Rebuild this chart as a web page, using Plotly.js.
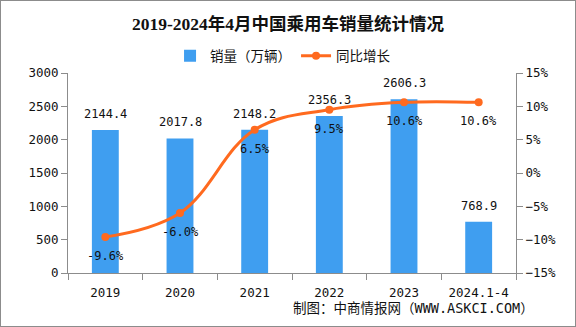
<!DOCTYPE html>
<html>
<head>
<meta charset="utf-8">
<script src="https://cdn.plot.ly/plotly-3.0.1.min.js"></script>
<style>
html,body{margin:0;padding:0;background:#fff;}
#wrap{position:relative;width:576px;height:327px;}
#chart{width:576px;height:327px;}
#frame{position:absolute;left:0;top:0;width:574px;height:325px;border:1px solid #8c8c8c;pointer-events:none;}
</style>
</head>
<body>
<div id="wrap"><div id="chart"></div><div id="frame"></div></div>
<script>
const categories = ["2019", "2020", "2021", "2022", "2023", "2024.1-4"];
const sales = [2144.4, 2017.8, 2148.2, 2356.3, 2606.3, 768.9];
const growth = [-9.6, -6.0, 6.5, 9.5, 10.6, 10.6];
const salesLabels = ["2144.4", "2017.8", "2148.2", "2356.3", "2606.3", "768.9"];
const growthLabels = ["-9.6%", "-6.0%", "6.5%", "9.5%", "10.6%", "10.6%"];

const numFont = "DejaVu Sans Mono, Noto Sans CJK SC, monospace";
const cjkFont = "Noto Sans CJK SC, DejaVu Sans, sans-serif";

const traces = [
  {
    type: "bar",
    name: "销量（万辆）",
    x: categories,
    y: sales,
    width: 0.36,
    marker: {color: "#3f9ef0"},
    hoverinfo: "skip"
  },
  {
    type: "scatter",
    mode: "lines+markers",
    name: "同比增长",
    x: categories,
    y: growth,
    yaxis: "y2",
    line: {color: "#ff6a1f", width: 3, shape: "spline", smoothing: 1.1},
    marker: {color: "#ff6a1f", size: 8},
    hoverinfo: "skip"
  }
];

const annotations = [];
categories.forEach((c, i) => {
  annotations.push({
    x: i, y: sales[i], xref: "x", yref: "y",
    text: salesLabels[i], showarrow: false, yshift: 16,
    font: {family: numFont, size: 12, color: "#111"}
  });
  annotations.push({
    x: i, y: growth[i], xref: "x", yref: "y2",
    text: growthLabels[i], showarrow: false, yshift: -19,
    font: {family: numFont, size: 12, color: "#111"}
  });
});
annotations.push({
  xref: "paper", yref: "paper", x: 1.045, y: -0.175, xanchor: "right", yanchor: "middle",
  text: "制图：中商情报网（WWW.ASKCI.COM）", showarrow: false,
  font: {family: numFont, size: 13.5, color: "#111"}
});

const layout = {
  width: 576, height: 327,
  margin: {l: 68, r: 60, t: 73, b: 54},
  paper_bgcolor: "#fff", plot_bgcolor: "#fff",
  title: {
    text: "<b>2019-2024年4月中国乘用车销量统计情况</b>",
    x: 0.5, xanchor: "center", y: 0.928, yanchor: "middle", yref: "container",
    font: {family: "Liberation Serif, Noto Sans CJK SC, serif", size: 17.5, color: "#111"}
  },
  showlegend: true,
  legend: {
    orientation: "h", x: 0.48, xanchor: "center", y: 1.085, yanchor: "middle",
    font: {family: cjkFont, size: 13.5, color: "#111"},
    itemwidth: 30, traceorder: "normal", bgcolor: "rgba(0,0,0,0)"
  },
  bargap: 0.64,
  xaxis: {
    type: "category", range: [-0.5, 5.5], autorange: false,
    showline: true, linecolor: "#8c8c8c", linewidth: 1,
    ticks: "outside", tickson: "boundaries", ticklen: 6, tickcolor: "#8c8c8c",
    tickfont: {family: numFont, size: 12.5, color: "#111"},
    tickangle: 0,
    showgrid: false, zeroline: false, fixedrange: true,
    ticklabelstandoff: 8
  },
  yaxis: {
    range: [0, 3000], dtick: 500, tick0: 0,
    showline: true, linecolor: "#8c8c8c", linewidth: 1,
    ticks: "outside", ticklen: 6, tickcolor: "#8c8c8c",
    tickfont: {family: numFont, size: 12.5, color: "#111"},
    showgrid: false, zeroline: false, fixedrange: true
  },
  yaxis2: {
    overlaying: "y", side: "right",
    range: [-15, 15], dtick: 5, tick0: -15, ticksuffix: "%",
    showline: true, linecolor: "#8c8c8c", linewidth: 1,
    ticks: "outside", ticklen: 6, tickcolor: "#8c8c8c",
    tickfont: {family: numFont, size: 12.5, color: "#111"},
    showgrid: false, zeroline: false, fixedrange: true
  },
  annotations: annotations
};

Plotly.newPlot("chart", traces, layout, {displayModeBar: false, staticPlot: true});
</script>
</body>
</html>
